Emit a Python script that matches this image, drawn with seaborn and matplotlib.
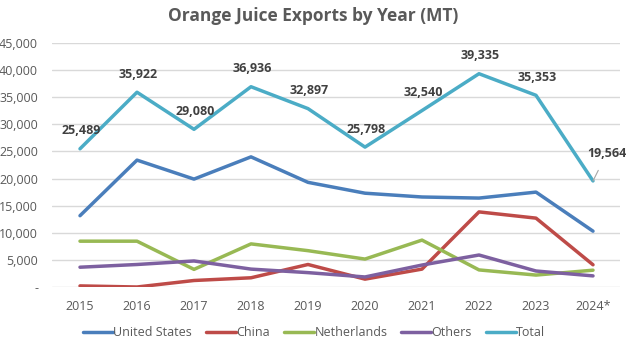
import matplotlib
matplotlib.use("Agg")
import matplotlib.pyplot as plt
import seaborn as sns
import pandas as pd
from matplotlib.ticker import FuncFormatter

years = ["2015", "2016", "2017", "2018", "2019", "2020", "2021", "2022", "2023", "2024*"]
united_states = [13150, 23400, 19900, 24000, 19300, 17300, 16600, 16400, 17500, 10300]
china = [200, 0, 1200, 1700, 4150, 1450, 3300, 13850, 12700, 4100]
netherlands = [8450, 8450, 3250, 7950, 6700, 5150, 8650, 3150, 2200, 3100]
others = [3650, 4150, 4800, 3300, 2650, 1850, 4050, 5900, 2950, 2050]
total = [25489, 35922, 29080, 36936, 32897, 25798, 32540, 39335, 35353, 19564]

series_names = ["United States", "China", "Netherlands", "Others", "Total"]
colors = ["#4A7EBB", "#BE4B48", "#98B954", "#7D60A0", "#4BACC6"]

sns.set_theme(style="white")
plt.rcParams["font.family"] = ["Open Sans", "DejaVu Sans"]

rows = []
for name, vals in zip(series_names, [united_states, china, netherlands, others, total]):
    for i, v in enumerate(vals):
        rows.append({"idx": i, "value": v, "series": name})
df = pd.DataFrame(rows)

fig = plt.figure(figsize=(6.26, 3.43), dpi=100)
ax = fig.add_axes([52 / 626, 1 - 287 / 343, (620 - 52) / 626, (287 - 43) / 343])

sns.lineplot(data=df, x="idx", y="value", hue="series", hue_order=series_names,
             palette=colors, linewidth=2.5, ax=ax, legend=True)

ax.set_ylim(0, 45000)
ax.set_xlim(-28 / 57, 9 + 27 / 57)
ax.set_yticks(range(0, 45001, 5000))
ax.yaxis.set_major_formatter(FuncFormatter(lambda v, p: "-" if v == 0 else f"{int(v):,}"))
ax.set_xticks(range(len(years)))
ax.set_xticklabels(years)
ax.grid(axis="y", color="#D9D9D9", linewidth=1)
ax.set_axisbelow(True)
for s in ax.spines.values():
    s.set_visible(False)
ax.tick_params(axis="both", colors="#595959", labelsize=9, length=0)
ax.tick_params(axis="x", pad=9)
ax.tick_params(axis="y", pad=10)
ax.set_xlabel("")
ax.set_ylabel("")

# data labels for Total (offsets in points)
for i, v in enumerate(total[:-1]):
    ax.annotate(f"{v:,}", (i, v), xytext=(1, 13), textcoords="offset points",
                ha="center", va="center", fontsize=9, fontweight="bold", color="#404040")
i = len(total) - 1
ax.annotate(f"{total[i]:,}", (i, total[i]), xytext=(10, 20), textcoords="offset points",
            ha="center", va="center", fontsize=9, fontweight="bold", color="#404040",
            arrowprops=dict(arrowstyle="-", color="#A6A6A6", lw=0.8, shrinkA=6, shrinkB=0))

fig.text(0.5, 1 - 16 / 343, "Orange Juice Exports by Year (MT)", ha="center", va="center",
         fontsize=12.5, fontweight="bold", color="#595959")

handles, labels = ax.get_legend_handles_labels()
ax.legend(handles, labels, loc="center", bbox_to_anchor=((314 - 52) / 568, -46 / 244), ncol=5,
          frameon=False, fontsize=9, labelcolor="#595959", handlelength=2.4,
          handletextpad=0.05, columnspacing=1.1)

fig.savefig("out.png", dpi=100)
